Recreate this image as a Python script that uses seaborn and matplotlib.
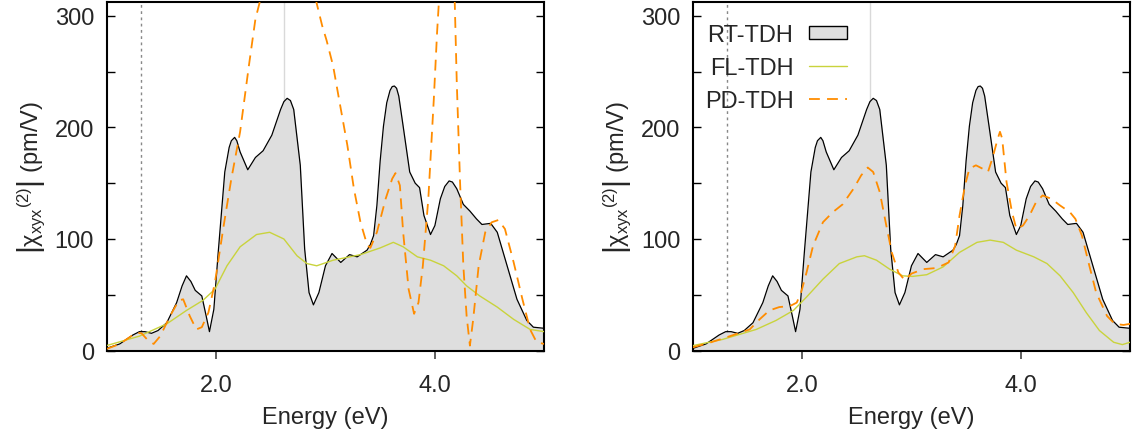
import numpy as np
import pandas as pd
import matplotlib
matplotlib.use("Agg")
import matplotlib.pyplot as plt
from matplotlib.patches import Patch
from matplotlib.lines import Line2D
import seaborn as sns

# ---------------- data ----------------
rt_x = [1.00, 1.12, 1.24, 1.30, 1.35, 1.41, 1.47, 1.55, 1.64, 1.69, 1.73, 1.77, 1.81, 1.87,
        1.91, 1.94, 1.98, 2.02, 2.08, 2.12, 2.14, 2.17, 2.19, 2.22, 2.29, 2.36, 2.43, 2.51,
        2.59, 2.62, 2.65, 2.68, 2.71, 2.77, 2.81, 2.85, 2.89, 2.94, 3.00, 3.06, 3.14, 3.22,
        3.29, 3.38, 3.41, 3.44, 3.47, 3.50, 3.53, 3.56, 3.59, 3.61, 3.63, 3.65, 3.67, 3.71,
        3.77, 3.82, 3.86, 3.90, 3.96, 4.00, 4.05, 4.09, 4.13, 4.16, 4.20, 4.26, 4.32, 4.38,
        4.43, 4.51, 4.57, 4.66, 4.75, 4.84, 4.90, 5.00]
rt_y = [2, 6, 14, 17, 17, 15.5, 18, 25, 43, 58, 67, 62, 54, 49,
        31, 17, 37, 88, 160, 182, 188, 191, 188, 178, 162, 173, 179, 193,
        216, 223, 226, 224, 216, 166, 91, 52, 41, 52, 76, 87, 79, 86,
        84, 90, 95, 103, 130, 170, 201, 222, 233, 236.5, 237, 235, 228, 201,
        160, 150, 146, 121, 104, 112, 136, 147, 152, 151, 145, 131, 125, 118,
        113, 114, 106, 76, 46, 27, 21, 20]

fl_left_x = [1.00, 1.30, 1.55, 1.73, 1.88, 1.99, 2.10, 2.22, 2.37, 2.49, 2.62, 2.74, 2.83,
             2.92, 3.07, 3.32, 3.50, 3.62, 3.71, 3.84, 3.96, 4.08, 4.20, 4.29, 4.41, 4.57,
             4.72, 4.87, 5.00]
fl_left_y = [4.5, 13, 24, 36, 45, 55, 76, 93, 104, 106, 100, 85, 78,
             76, 81, 86, 92, 97, 93, 84, 81, 76, 67, 58, 49, 39,
             28, 19, 17]

pd_left_x = [1.00, 1.12, 1.27, 1.32, 1.38, 1.43, 1.49, 1.58, 1.66, 1.70, 1.76, 1.82, 1.87,
             1.93, 1.99, 2.07, 2.14, 2.22, 2.30, 2.36, 2.42, 2.50, 2.60, 2.70, 2.80, 2.91,
             2.97, 3.01, 3.07, 3.13, 3.20, 3.26, 3.32, 3.38, 3.41, 3.47, 3.55, 3.61, 3.64,
             3.68, 3.71, 3.76, 3.81, 3.85, 3.89, 3.94, 3.99, 4.02, 4.04, 4.11, 4.18, 4.20,
             4.23, 4.26, 4.29, 4.32, 4.35, 4.40, 4.46, 4.52, 4.58, 4.64, 4.72, 4.80, 4.87,
             4.93, 5.00]
pd_left_y = [1.5, 6, 16, 15.5, 9, 6, 13, 31, 45, 46, 31, 19, 21,
             34, 61, 112, 154, 196, 255, 297, 320, 350, 370, 365, 345, 315,
             291, 278, 255, 222, 184, 145, 115, 95, 92, 106, 136, 154, 159,
             148, 106, 55, 33, 43, 76, 136, 225, 285, 318, 420, 318, 240,
             151, 76, 31, 4.5, 28, 76, 106, 115, 117, 109, 79, 46, 19,
             7.5, 6]

fl_right_x = [1.00, 1.27, 1.58, 1.76, 1.92, 2.04, 2.19, 2.34, 2.50, 2.57, 2.68, 2.80, 2.92,
              3.01, 3.14, 3.29, 3.44, 3.60, 3.72, 3.84, 3.96, 4.12, 4.24, 4.36, 4.48, 4.60,
              4.72, 4.85, 4.93, 5.00]
fl_right_y = [4.5, 10, 19, 27, 36, 48, 64, 78, 84, 85, 81, 73, 67,
              66.5, 68, 75, 88, 97, 99, 97, 90, 84, 78, 67, 52, 34,
              18, 7.5, 5.4, 7.5]

pd_right_x = [1.00, 1.15, 1.31, 1.43, 1.52, 1.61, 1.70, 1.79, 1.89, 1.95, 1.99, 2.04, 2.10,
              2.19, 2.28, 2.37, 2.47, 2.54, 2.60, 2.65, 2.71, 2.77, 2.82, 2.88, 2.94, 3.00,
              3.11, 3.23, 3.34, 3.40, 3.44, 3.49, 3.53, 3.59, 3.65, 3.70, 3.74, 3.79, 3.81,
              3.83, 3.87, 3.92, 3.96, 4.02, 4.08, 4.14, 4.20, 4.28, 4.36, 4.45, 4.50, 4.56,
              4.62, 4.69, 4.79, 4.86, 4.94, 5.00]
pd_right_y = [3, 7, 12, 16, 19, 28, 36, 39, 40, 43, 52, 70, 94,
              115, 124, 131, 145, 157, 164, 160, 142, 112, 88, 70, 63, 69,
              73, 74, 79, 94, 121, 148, 163, 166, 163, 160, 172, 190, 196,
              190, 151, 124, 109, 112, 121, 133, 139, 136, 130, 124, 118, 103,
              79, 52, 31, 24, 23, 24]

dotted_x = 1.31
solid_x = 2.62
x_ticks = [2.0, 4.0]
x_ticklabels = ["2.0", "4.0"]
y_ticks = [0, 100, 200, 300]
y_minor = [50, 150, 250]
labels = ["RT-TDH", "FL-TDH", "PD-TDH"]

# ---------------- style ----------------
sns.set_theme(style="ticks")
plt.rcParams["font.family"] = ["Liberation Sans", "DejaVu Sans"]
plt.rcParams["mathtext.fontset"] = "custom"
plt.rcParams["mathtext.rm"] = "Liberation Sans"
plt.rcParams["mathtext.it"] = "Liberation Sans"
plt.rcParams["mathtext.bf"] = "Liberation Sans:bold"

FS = 17
FILL = "#dedede"
FLC = "#c9d33c"
PDC = "#ff8c00"

fig = plt.figure(figsize=(11.34, 4.39), dpi=100)
ax1 = fig.add_axes([0.094, 0.199, 0.386, 0.7935])
ax2 = fig.add_axes([0.611, 0.199, 0.3855, 0.7935])

rt = pd.DataFrame({"x": rt_x, "y": rt_y})


def draw(ax, flx, fly, pdx, pdy):
    ax.axvline(dotted_x, color="#888888", lw=1.0, ls=(0, (2, 2.5)), zorder=0.5)
    ax.axvline(solid_x, color="#d9d9d9", lw=1.0, zorder=0.5)
    ax.fill_between(rt["x"], 0, rt["y"], color=FILL, lw=0, zorder=1)
    sns.lineplot(data=rt, x="x", y="y", ax=ax, color="black", lw=0.9, zorder=2)
    sns.lineplot(x=flx, y=fly, ax=ax, color=FLC, lw=1.0, zorder=3)
    sns.lineplot(x=pdx, y=pdy, ax=ax, color=PDC, lw=1.3, ls=(0, (6, 4)), zorder=4)
    ax.set_xlim(1, 5)
    ax.set_ylim(0, 312)
    ax.set_xticks(x_ticks)
    ax.set_xticklabels(x_ticklabels)
    ax.set_yticks(y_ticks)
    ax.set_yticks(y_minor, minor=True)
    ax.tick_params(axis="y", which="both", direction="in", left=True, right=True,
                   length=5.8, width=1.0, color="black", labelsize=FS, pad=9)
    ax.tick_params(axis="x", which="major", direction="out", length=5.8, width=1.2,
                   color="#444444", labelsize=FS, pad=11)
    ax.set_xlabel("Energy (eV)", fontsize=FS, labelpad=7)
    ax.set_ylabel(r"$\left|\chi_{\mathrm{xyx}}{}^{(2)}\right|$ (pm/V)", fontsize=FS, labelpad=5)
    for s in ax.spines.values():
        s.set_visible(True)
        s.set_linewidth(1.5)
        s.set_color("black")
    ax.grid(False)


draw(ax1, fl_left_x, fl_left_y, pd_left_x, pd_left_y)
draw(ax2, fl_right_x, fl_right_y, pd_right_x, pd_right_y)

handles = [Patch(facecolor=FILL, edgecolor="black", lw=1.0),
           Line2D([], [], color=FLC, lw=1.0),
           Line2D([], [], color=PDC, lw=1.3, ls=(0, (6, 4)))]
ax2.legend(handles, labels, loc="upper left", bbox_to_anchor=(0.0, 0.972), frameon=False,
           markerfirst=False, fontsize=FS, handlelength=1.6, handleheight=0.5,
           labelspacing=0.47, handletextpad=0.65, borderaxespad=0.1, borderpad=0.4)

fig.savefig("out.png", dpi=100)
